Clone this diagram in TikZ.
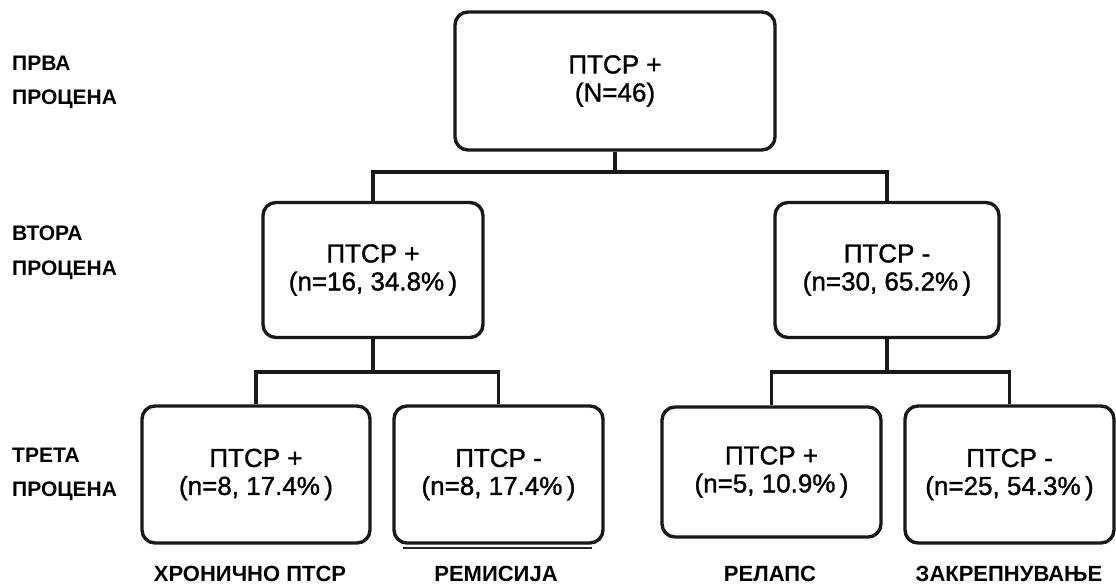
\documentclass[tikz,border=0pt]{standalone}
\usepackage{fontspec}
\setmainfont{Liberation Sans}
\newfontfamily\boxfont[FakeBold=1.2]{Liberation Sans}
\begin{document}
\begin{tikzpicture}[x=1pt,y=-1pt,
  box/.style={draw=black!90,line width=3.4pt,rounded corners=13pt,align=center,
    font=\boxfont\fontsize{26}{28}\selectfont,inner sep=0pt},
  conn/.style={draw=black!90,line width=3.2pt},
  lvl/.style={anchor=west,font=\bfseries\fontsize{21}{22}\selectfont,inner sep=0pt},
  outc/.style={font=\bfseries\fontsize{22}{22}\selectfont,inner sep=0pt}]
\useasboundingbox (0,0) rectangle (1116,584);
% level labels
\node[lvl] (l1a) at (12,63) {ПРВА};
\node[lvl] (l1b) at (12,99) {ПРОЦЕНА};
\node[lvl] (l2a) at (12,233) {ВТОРА};
\node[lvl] (l2b) at (12,270) {ПРОЦЕНА};
\node[lvl] (l3a) at (12,455) {ТРЕТА};
\node[lvl] (l3b) at (12,491) {ПРОЦЕНА};
% boxes
\node[box,minimum width=320pt,minimum height=138pt] (top) at (615,81) {ПТСР +\\(N=46)};
\node[box,minimum width=220pt,minimum height=135pt] (ml) at (373,270) {ПТСР +\\(n=16, 34.8\%\,)};
\node[box,minimum width=224pt,minimum height=135pt] (mr) at (887,270) {ПТСР -\\(n=30, 65.2\%\,)};
\node[box,minimum width=228pt,minimum height=137pt] (b1) at (256,474.5) {ПТСР +\\(n=8, 17.4\%\,)};
\node[box,minimum width=209pt,minimum height=137pt] (b2) at (498.5,474.5) {ПТСР -\\(n=8, 17.4\%\,)};
\node[box,minimum width=219pt,minimum height=130pt] (b3) at (771.5,472) {ПТСР +\\(n=5, 10.9\%\,)};
\node[box,minimum width=209pt,minimum height=137pt] (b4) at (1009.5,474.5) {ПТСР -\\(n=25, 54.3\%\,)};
% junctions
\coordinate (j1) at (615,172);
\coordinate (j2) at (373,372);
\coordinate (j3) at (887,372);
% connectors
\draw[conn] (top.south) -- (j1);
\draw[conn] (ml.north) |- (j1) -| (mr.north);
\draw[conn] (ml.south) -- (j2);
\draw[conn] (b1.north) |- (j2) -| (b2.north);
\draw[conn] (mr.south) -- (j3);
\draw[conn] (b3.north) |- (j3) -| (b4.north);
% stray underline
\coordinate (u1) at (403,548);
\coordinate (u2) at (592,548);
\draw[black!85,line width=1.5pt] (u1) -- (u2);
% outcome labels
\node[outc] (o1) at (250,574) {ХРОНИЧНО ПТСР};
\node[outc] (o2) at (496,574) {РЕМИСИЈА};
\node[outc] (o3) at (770,574) {РЕЛАПС};
\node[outc] (o4) at (1009,574) {ЗАКРЕПНУВАЊЕ};
\end{tikzpicture}
\end{document}
